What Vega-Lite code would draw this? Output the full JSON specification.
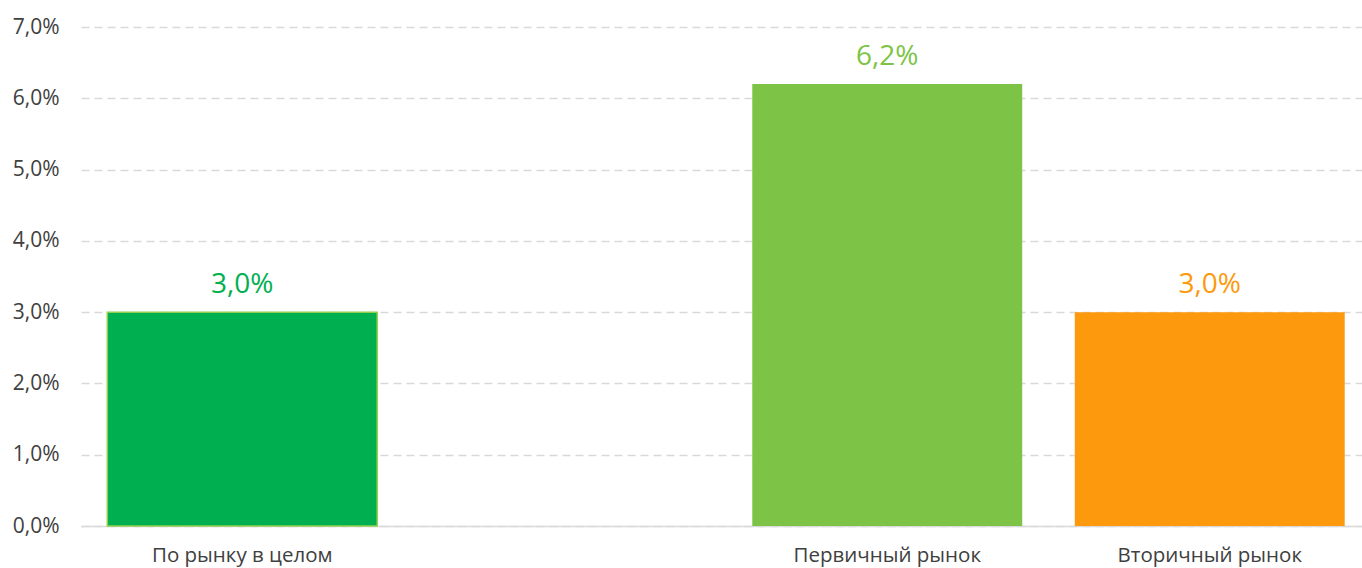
{
  "$schema": "https://vega.github.io/schema/vega-lite/v6.json",
  "width": 1281,
  "height": 499,
  "autosize": {"type": "none"},
  "padding": {"left": 81, "top": 27, "right": 0, "bottom": 42},
  "background": "white",
  "config": {"view": {"stroke": null}, "font": "Open Sans"},
  "data": {
    "values": [
      {"cat": "По рынку в целом", "value": 0.030},
      {"cat": "Первичный рынок", "value": 0.062},
      {"cat": "Вторичный рынок", "value": 0.030}
    ]
  },
  "transform": [
    {"calculate": "replace(format(datum.value, '.1%'), '.', ',')", "as": "label"}
  ],
  "encoding": {
    "x": {
      "field": "cat",
      "type": "nominal",
      "sort": null,
      "scale": {
        "domain": ["По рынку в целом", " ", "Первичный рынок", "Вторичный рынок"],
        "range": [0, 1290],
        "paddingInner": 0.163,
        "paddingOuter": 0.0815
      },
      "axis": {
        "title": null,
        "labelAngle": 0,
        "ticks": false,
        "domain": true,
        "domainColor": "#D9D9D9",
        "domainWidth": 1.5,
        "labelFontSize": 20.5,
        "labelColor": "#404040",
        "labelBaseline": "alphabetic",
        "labelPadding": 35,
        "labelLimit": 0,
        "grid": false
      }
    },
    "y": {
      "field": "value",
      "type": "quantitative",
      "scale": {"domain": [0, 0.07], "nice": false},
      "axis": {
        "title": null,
        "values": [0, 0.01, 0.02, 0.03, 0.04, 0.05, 0.06, 0.07],
        "labelExpr": "replace(format(datum.value, '.1%'), '.', ',')",
        "labelFontSize": 21,
        "labelColor": "#404040",
        "labelPadding": 22,
        "ticks": false,
        "domain": false,
        "grid": true,
        "gridColor": "#D9D9D9",
        "gridWidth": 1.5,
        "gridDash": [8, 5]
      }
    },
    "color": {
      "field": "cat",
      "type": "nominal",
      "legend": null,
      "scale": {
        "domain": ["По рынку в целом", "Первичный рынок", "Вторичный рынок"],
        "range": ["#00B050", "#7DC346", "#FC990C"]
      }
    }
  },
  "layer": [
    {
      "mark": {"type": "bar", "stroke": "#92D050"},
      "encoding": {
        "strokeWidth": {
          "condition": {"test": "datum.cat === 'По рынку в целом'", "value": 1.5},
          "value": 0
        }
      }
    },
    {
      "mark": {"type": "text", "baseline": "alphabetic", "dy": -19, "fontSize": 28},
      "encoding": {"text": {"field": "label"}}
    }
  ]
}
